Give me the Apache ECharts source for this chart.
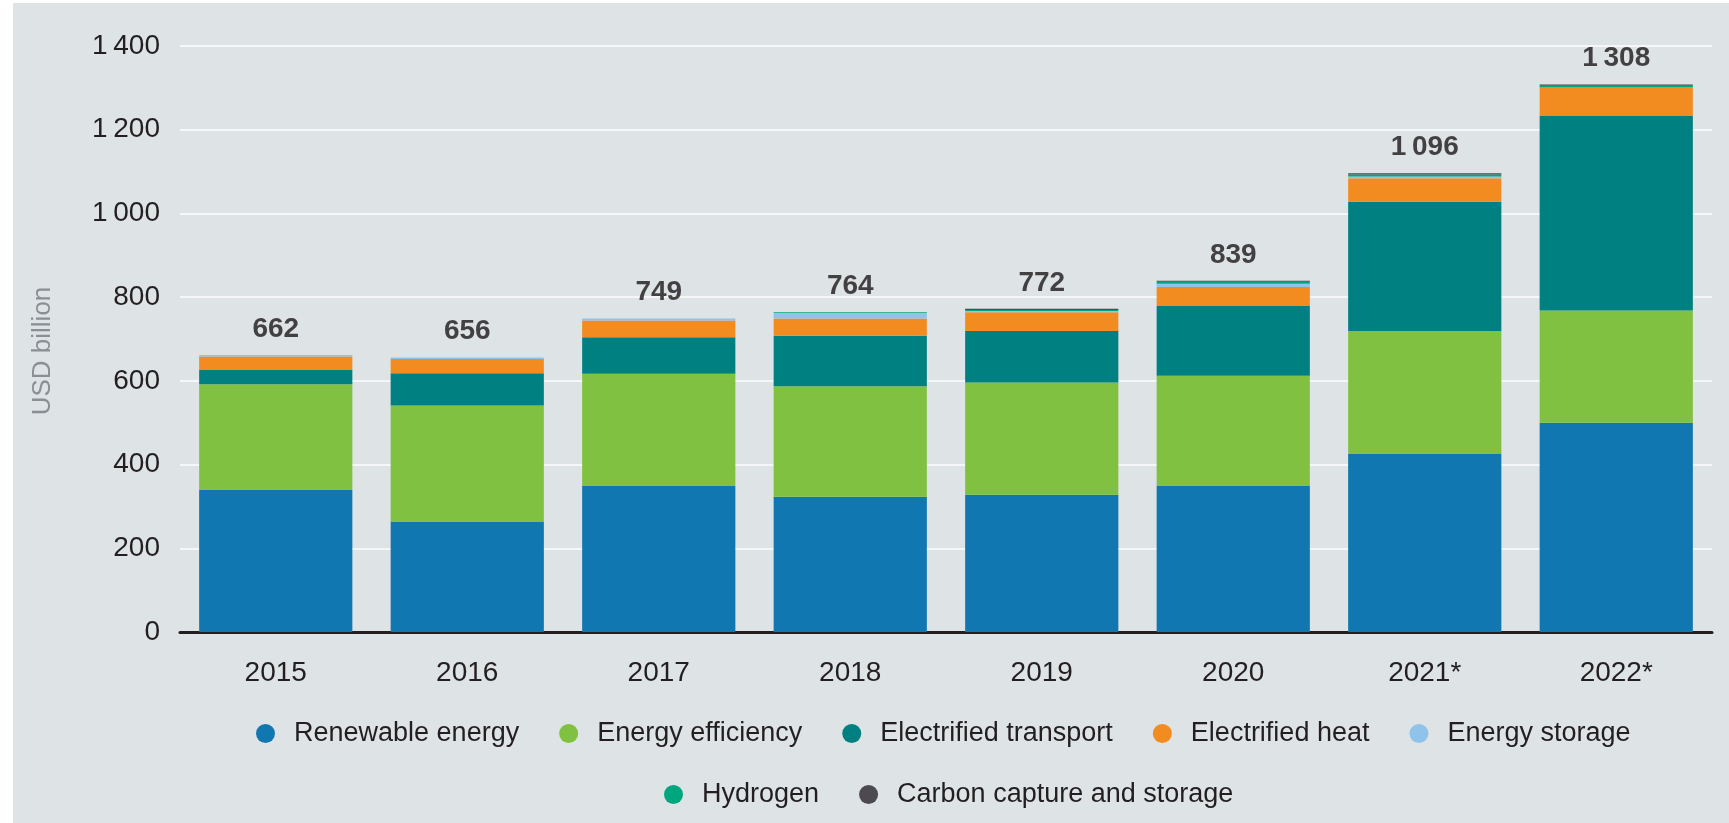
<!DOCTYPE html>
<html>
<head>
<meta charset="utf-8">
<title>Energy transition investment</title>
<script src="https://cdn.jsdelivr.net/npm/echarts@6.0.0/dist/echarts.min.js"></script>
<style>
    html, body { margin: 0; padding: 0; background: #ffffff; }
    #bg { position: absolute; left: 13px; top: 3px; width: 1716px; height: 820px; background: #dee3e5; }
    #echarts { position: absolute; left: 0; top: 0; width: 1729px; height: 823px; }
</style>
</head>
<body>
<div id="bg"></div>
<div id="echarts"></div>
<script>
// values, USD billion
var years = ['2015', '2016', '2017', '2018', '2019', '2020', '2021*', '2022*'];
var renewable = [339, 264, 349, 323, 328, 349, 425, 500];
var efficiency = [253, 277, 268, 264, 268, 263, 294, 268];
var transport = [35, 77, 87, 121, 123, 167, 309, 466];
var heat = [31, 34, 40, 41, 45, 45, 56, 66];
var storage = [4, 4, 5, 13, 3, 8, 4, 1];
var hydrogen = [0, 0, 0, 2, 2, 5, 5, 4];
var ccs = [0, 0, 0, 0, 3, 2, 3, 3];
var totals = [662, 656, 749, 764, 772, 839, 1096, 1308];
var yTicks = [0, 200, 400, 600, 800, 1000, 1200, 1400];

var names = ['Renewable energy', 'Energy efficiency', 'Electrified transport', 'Electrified heat',
    'Energy storage', 'Hydrogen', 'Carbon capture and storage'];
var colors = ['#1077b0', '#80c141', '#008080', '#f28b20', '#8fc3ea', '#00a67e', '#4d4950'];
var values = [renewable, efficiency, transport, heat, storage, hydrogen, ccs];

var FONT = '"Liberation Sans", Arial, sans-serif';

function thousands(v) {
    if (v >= 1000) {
        var rest = String(v % 1000);
        while (rest.length < 3) rest = '0' + rest;
        return Math.floor(v / 1000) + '\u2009' + rest;
    }
    return String(v);
}

function buildSeries() {
    var series = [];
    for (var i = 0; i < names.length; i++) {
        series.push({
            name: names[i],
            type: 'bar',
            stack: 'total',
            barCategoryGap: '20%',
            itemStyle: { color: colors[i] },
            data: values[i]
        });
    }
    // total labels above each stack
    series.push({
        name: 'Total',
        type: 'scatter',
        symbolSize: 0,
        data: totals,
        label: {
            show: true,
            position: 'top',
            distance: 12,
            color: '#1a1718',
            fontFamily: FONT,
            fontWeight: 'bold',
            fontSize: 28,
            formatter: function (p) { return thousands(p.value); }
        },
        silent: true
    });
    return series;
}

function legendFor(list, left, top) {
    return {
        data: list,
        left: left,
        top: top,
        orient: 'horizontal',
        icon: 'circle',
        itemWidth: 47,
        itemHeight: 19,
        itemGap: 40,
        selectedMode: false,
        textStyle: { color: '#231f20', fontFamily: FONT, fontSize: 27 }
    };
}

var dom = document.getElementById('echarts');
var myChart = echarts.init(dom, null, { renderer: 'canvas' });
var option = {
    backgroundColor: 'transparent',
    animation: false,
    grid: { left: 180, right: 17, top: 46, bottom: 191 },
    legend: [
        legendFor(names.slice(0, 5), 251, 715),
        legendFor(names.slice(5), 659, 776)
    ],
    xAxis: {
        type: 'category',
        data: years,
        axisLine: { lineStyle: { color: '#231f20', width: 3 } },
        axisTick: { show: false },
        axisLabel: { color: '#231f20', fontFamily: FONT, fontSize: 28, margin: 27 }
    },
    yAxis: {
        type: 'value',
        min: yTicks[0],
        max: yTicks[yTicks.length - 1],
        interval: yTicks[1] - yTicks[0],
        name: 'USD billion',
        nameLocation: 'middle',
        nameGap: 124,
        nameTextStyle: { color: '#8a8f93', fontFamily: FONT, fontSize: 26, padding: [0, 24, 0, 0] },
        axisLine: { show: false },
        axisTick: { show: false },
        splitLine: { lineStyle: { color: '#f4f6f7', width: 2 } },
        axisLabel: {
            color: '#231f20', fontFamily: FONT, fontSize: 28, margin: 20,
            formatter: function (v) { return thousands(v); }
        }
    },
    series: buildSeries()
};
myChart.setOption(option, true);
</script>
</body>
</html>
